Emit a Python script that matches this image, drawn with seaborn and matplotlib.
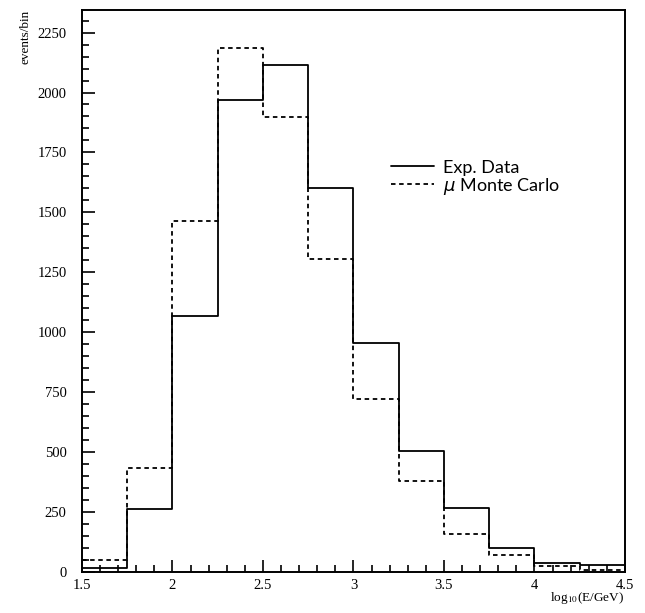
import numpy as np
import pandas as pd
import matplotlib
matplotlib.use("Agg")
import matplotlib.pyplot as plt
import seaborn as sns
from matplotlib.ticker import MultipleLocator, FormatStrFormatter

# bin edges in log10(E/GeV) and counts per bin
bin_edges = [1.5, 1.75, 2.0, 2.25, 2.5, 2.75, 3.0, 3.25, 3.5, 3.75, 4.0, 4.25, 4.5]
exp_data = [15, 262, 1066, 1967, 2113, 1603, 955, 505, 266, 100, 38, 28]
mc_data = [48, 435, 1463, 2187, 1897, 1307, 721, 381, 160, 70, 25, 10]

centers = [(a + b) / 2 for a, b in zip(bin_edges[:-1], bin_edges[1:])]
df = pd.DataFrame({
    "logE": centers * 2,
    "events": exp_data + mc_data,
    "sample": ["Exp. Data"] * len(exp_data) + ["$\\mu$ Monte Carlo"] * len(mc_data),
})

sns.set_style("ticks")
plt.rcParams["font.family"] = ["Liberation Serif", "DejaVu Serif"]
plt.rcParams["mathtext.fontset"] = "dejavusans"
for k in ["text.color", "axes.labelcolor", "xtick.color", "ytick.color", "axes.edgecolor"]:
    plt.rcParams[k] = "black"

fig = plt.figure(figsize=(6.45, 6.13), dpi=100)
ax = fig.add_axes([0.127, 0.067, 0.842, 0.917])

sns.histplot(data=df[df["sample"] == "Exp. Data"], x="logE", weights="events",
             bins=bin_edges, element="step", fill=False, color="black",
             linewidth=1.3, ax=ax, label="Exp. Data")
sns.histplot(data=df[df["sample"] != "Exp. Data"], x="logE", weights="events",
             bins=bin_edges, element="step", fill=False, color="black",
             linewidth=1.3, linestyle=(0, (2.5, 2)), ax=ax, label="$\\mu$ Monte Carlo")

ax.set_xlim(1.5, 4.5)
ax.set_ylim(0, 2345)
ax.xaxis.set_major_locator(MultipleLocator(0.5))
ax.xaxis.set_minor_locator(MultipleLocator(0.1))
ax.xaxis.set_major_formatter(FormatStrFormatter("%g"))
ax.yaxis.set_major_locator(MultipleLocator(250))
ax.yaxis.set_minor_locator(MultipleLocator(50))
ax.tick_params(which="both", direction="in", top=False, right=False,
               labelsize=10.5, width=1.2)
ax.tick_params(axis="y", pad=11)
ax.tick_params(axis="x", pad=5)
ax.tick_params(which="major", length=9)
ax.tick_params(which="minor", length=5)
for s in ax.spines.values():
    s.set_linewidth(1.4)

ax.set_xlabel("")
ax.set_ylabel("")
fig.text(0.968, 0.012, "log$_{10}$(E/GeV)", ha="right", va="bottom", fontsize=9.5,
         math_fontfamily="stix")
fig.text(0.04, 0.984, "events/bin", rotation=90, ha="center", va="top", fontsize=9.5)

leg = ax.legend(loc="upper left", bbox_to_anchor=(0.555, 0.746), frameon=False,
                prop={"family": ["Lato", "DejaVu Sans"], "size": 13},
                handlelength=2.4, handletextpad=0.5, labelspacing=0.0,
                borderaxespad=0)

fig.savefig("out.png", dpi=100)
